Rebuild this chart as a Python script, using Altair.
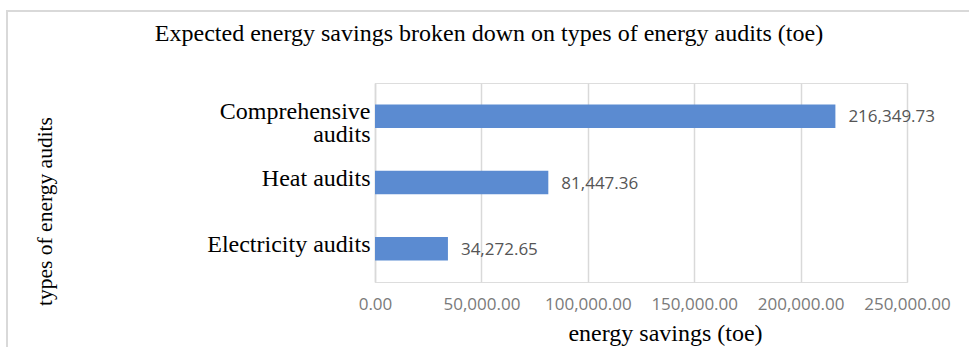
import altair as alt
import pandas as pd

categories = ["Comprehensive audits", "Heat audits", "Electricity audits"]
savings = [216349.73, 81447.36, 34272.65]
x_ticks = [0, 50000, 100000, 150000, 200000, 250000]
chart_title = "Expected energy savings broken down on types of energy audits (toe)"
x_title = "energy savings (toe)"
y_title = "types of energy audits"

df = pd.DataFrame({"category": categories, "savings": savings})
one = pd.DataFrame({"k": [0]})

SERIF = "Liberation Serif"
SANS = "Open Sans"

x_enc = alt.X(
    "savings:Q",
    scale=alt.Scale(domain=[0, 250000], nice=False),
    axis=alt.Axis(
        values=x_ticks, format=",.2f", title=x_title,
        grid=True, gridColor="#d9d9d9", gridWidth=1.5,
        domain=False, ticks=False, labelOverlap=False, labelFlush=False,
        labelFont=SANS, labelFontSize=17, labelColor="#7a7a7a", labelPadding=14,
        titleFont=SERIF, titleFontSize=24, titleFontWeight="normal",
        titleColor="#000000", titleX=290, titleY=51, titleBaseline="middle",
        titleAnchor="start", titleAlign="center",
    ),
)
y_enc = alt.Y(
    "category:N",
    sort=categories,
    scale=alt.Scale(paddingInner=0.646, paddingOuter=0.323),
    axis=alt.Axis(
        title=y_title, titleFont=SERIF, titleFontSize=21.5, titleFontWeight="normal",
        titleColor="#000000", titleAngle=270, titleX=-330, titleY=128,
        titleAlign="center", titleBaseline="middle",
        labelFont=SERIF, labelFontSize=24, labelColor="#000000", labelPadding=5,
        labelBaseline="alphabetic", labelOffset=3, labelLineHeight=23,
        labelExpr="datum.value == 'Comprehensive audits' ? ['Comprehensive', 'audits'] : datum.value",
        ticks=False, domain=True, domainColor="#d9d9d9", domainWidth=1.5, grid=False,
    ),
)

frame = alt.Chart(one).mark_rect(fillOpacity=0, stroke="#d9d9d9", strokeWidth=2).encode(
    x=alt.value(-368), x2=alt.value(620), y=alt.value(-72), y2=alt.value(300)
)

title = alt.Chart(one).mark_text(
    text=chart_title, font=SERIF, fontSize=24, color="#000000",
    align="center", baseline="alphabetic"
).encode(x=alt.value(114), y=alt.value(-42))

bars = alt.Chart(df).mark_bar(color="#5b8bd1").encode(x=x_enc, y=y_enc)

values = alt.Chart(df).mark_text(
    align="left", baseline="middle", dx=13, dy=1, font=SANS, fontSize=17, color="#555555"
).encode(
    x="savings:Q",
    y=alt.Y("category:N", sort=categories),
    text=alt.Text("savings:Q", format=",.2f"),
)

chart = alt.layer(frame, title, bars, values).properties(
    width=532, height=199,
    autosize=alt.AutoSizeParams(type="none"),
    padding={"left": 375, "top": 83, "right": 62, "bottom": 65},
).configure_view(stroke=None).configure(background="#ffffff")

chart.save("out.html", embed_options={"renderer": "svg", "actions": False})
